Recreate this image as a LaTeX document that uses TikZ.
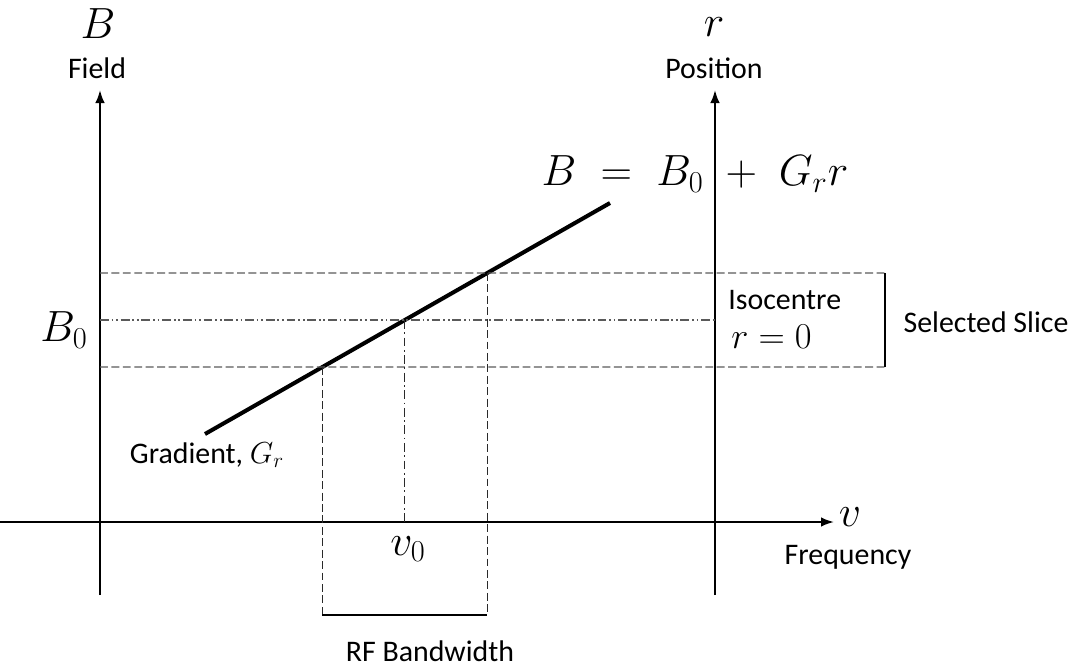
\documentclass[tikz,border=0pt]{standalone}
\usepackage{fontspec}
\setmainfont{Carlito}
\usetikzlibrary{arrows.meta,positioning,calc}
\definecolor{SliceInk}{HTML}{000000}
\definecolor{SliceGray}{HTML}{5A5A5A}
\definecolor{SliceDash}{HTML}{2A2A2A}
\tikzset{
  axis/.style={-{Latex[length=2.6mm,width=1.9mm]}, line width=1.1pt, SliceInk},
  plainaxis/.style={line width=1.1pt, SliceInk},
  gradline/.style={line width=2.3pt, SliceInk},
  slicebar/.style={line width=1.7pt, SliceInk},
  guide/.style={dash pattern=on 4.5pt off 2pt, line width=0.6pt, SliceGray},
  vguide/.style={dash pattern=on 4.5pt off 2pt, line width=0.6pt, SliceDash},
  centreline/.style={dash pattern=on 5pt off 1.6pt on 1pt off 1.6pt on 1pt off 1.6pt,
                     line width=0.6pt, SliceGray},
  vcentre/.style={dash pattern=on 5pt off 2pt on 1pt off 2pt, line width=0.6pt, SliceDash},
  txtlbl/.style={font=\fontsize{17}{20}\selectfont, inner sep=0pt},
  mathlbl/.style={font=\fontsize{26}{30}\selectfont, inner sep=0pt},
}

\begin{document}
\begin{tikzpicture}[x=0.02cm, y=-0.02cm]
  \useasboundingbox (0,0) rectangle (1080,670);

  % axes
  \coordinate (fieldbot) at (100,595);
  \coordinate (fieldtop) at (100,90);
  \coordinate (posbot)   at (715,595);
  \coordinate (postop)   at (715,90);
  \coordinate (freqleft) at (0,522);
  \coordinate (freqright) at (834,522);
  \draw[axis] (fieldbot) -- (fieldtop);
  \draw[axis] (posbot) -- (postop);
  \draw[axis] (freqleft) -- (freqright);

  \node[mathlbl] (Bsym)     at (98,24)  {$B$};
  \node[txtlbl]  (fieldlbl) at (97,68)  {Field};
  \node[mathlbl] (rsym)     at (714,27) {$r$};
  \node[txtlbl]  (poslbl)   at (714,68) {Position};
  \node[mathlbl] (nusym)    at (850,517) {$v$};
  \node[txtlbl]  (freqlbl)  at (848,557) {Frequency};

  % gradient
  \coordinate (gradlo) at (205,434);
  \coordinate (gradhi) at (610,203);
  \draw[gradline] (gradlo) -- (gradhi);
  \coordinate (cutlo)  at ($(gradlo)!0.29!(gradhi)$);
  \coordinate (cutmid) at ($(gradlo)!0.4935!(gradhi)$);
  \coordinate (cuthi)  at ($(gradlo)!0.697!(gradhi)$);

  % selected slice
  \coordinate (slicetop) at (885,273);
  \coordinate (slicebot) at (885,367);
  \draw[guide] (fieldbot |- cuthi) -- (slicetop);
  \draw[guide] (fieldbot |- cutlo) -- (slicebot);
  \draw[centreline] (fieldbot |- cutmid) -- (posbot |- cutmid);
  \draw[slicebar] (slicetop) -- (slicebot);

  % bandwidth
  \coordinate (bwlevel) at (0,615);
  \draw[vguide] (cutlo) -- (cutlo |- bwlevel);
  \draw[vguide] (cuthi) -- (cuthi |- bwlevel);
  \draw[vcentre] (cutmid) -- (cutmid |- freqleft);
  \draw[slicebar] (cutlo |- bwlevel) -- (cuthi |- bwlevel);

  \node[mathlbl] (nuzero)  at (408,549) {$v_0$};
  \node[mathlbl] (Bzero)   at (64,330)  {$B_0$};
  \node[mathlbl] (eqnlbl)  at (695,174) {$B \;=\; B_0 \;+\; G_r r$};
  \node[txtlbl]  (gradlbl) at (207,455) {Gradient, $G_r$};
  \node[txtlbl, anchor=west] (isolbl) at (728,300) {Isocentre};
  \node[txtlbl, anchor=west, font=\fontsize{21}{24}\selectfont] (rzero) at (731,337) {$r = 0$};
  \node[txtlbl]  (slicelbl) at (986,322) {Selected Slice};
  \node[txtlbl]  (bwlbl)    at (430,651) {RF Bandwidth};
\end{tikzpicture}
\end{document}
